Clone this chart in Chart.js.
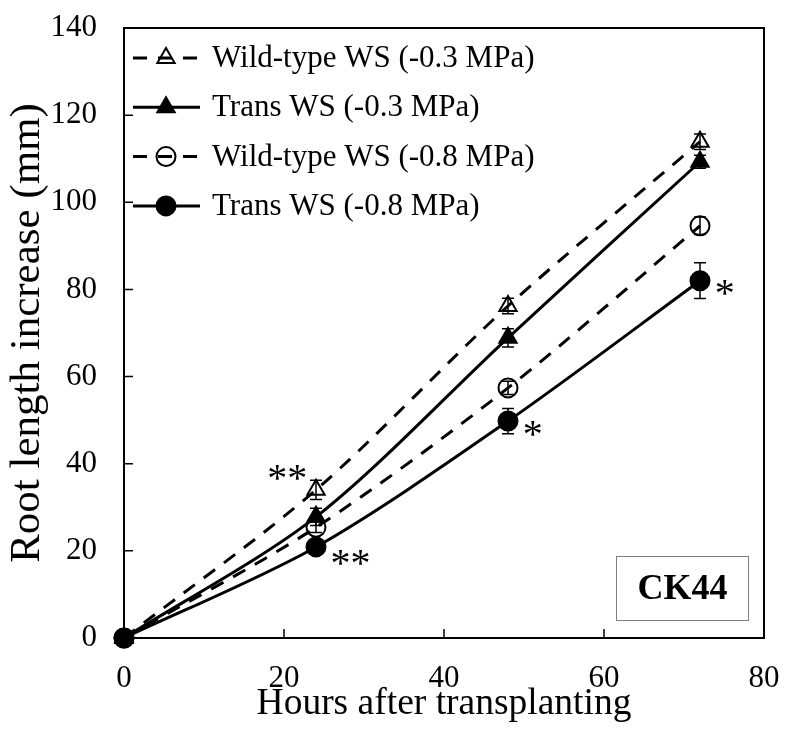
<!DOCTYPE html>
<html>
<head>
<meta charset="utf-8">
<script src="https://cdn.jsdelivr.net/npm/chart.js@4.4.0/dist/chart.umd.min.js"></script>
<style>
    html, body { margin: 0; padding: 0; background: #fff; }
</style>
</head>
<body>
<canvas id="rootChart" width="796" height="741"></canvas>
<script>
// dados
const horas = [0, 24, 48, 72];
const wt03 = [0, 34.0, 76.2, 113.9];
const trans03 = [0, 27.8, 68.9, 109.3];
const wt08 = [0, 25.4, 57.4, 94.6];
const trans08 = [0, 20.9, 49.8, 82.0];

// desvios (barras de erro)
const errWt03 = [0, 2.2, 1.8, 1.8];
const errTrans03 = [0, 2.0, 2.1, 1.5];
const errWt08 = [0, 1.2, 1.5, 2.0];
const errTrans08 = [0, 1.0, 2.9, 4.1];

const legendas = ['Wild-type WS (-0.3 MPa)', 'Trans WS (-0.3 MPa)', 'Wild-type WS (-0.8 MPa)', 'Trans WS (-0.8 MPa)'];

// asteriscos de significância
const astX = [20.4, 28.3, 51.1, 75.1];
const astY = [37.0, 17.4, 47.0, 79.4];
const astTexto = ['**', '**', '*', '*'];

const rotulo = 'CK44';

const SERIF = '"Liberation Serif", "Times New Roman", serif';

function pontos(vals) {
    return horas.map((h, i) => ({ x: h, y: vals[i] }));
}

function serie(label, vals, err, estilo, aberto, tracejado) {
    return {
        label: label,
        data: pontos(vals),
        erros: err,
        borderColor: '#000',
        borderWidth: 3,
        borderDash: tracejado ? [14, 11] : [],
        tension: 0.3,
        pointStyle: estilo,
        pointRadius: estilo === 'triangle' ? 10 : 9.5,
        pointBorderWidth: 2,
        pointBorderColor: '#000',
        pointBackgroundColor: aberto ? 'rgba(0,0,0,0)' : '#000',
        fill: false,
        clip: false
    };
}

// desenha moldura, ticks internos, barras de erro, legenda, asteriscos e caixa CK44
const extras = {
    id: 'extras',
    beforeDatasetsDraw(chart) {
        const ctx = chart.ctx;
        const sx = chart.scales.x, sy = chart.scales.y;
        ctx.save();
        ctx.strokeStyle = '#000';
        ctx.lineWidth = 1.5;
        chart.data.datasets.forEach(ds => {
            ds.data.forEach((p, i) => {
                const e = ds.erros[i];
                if (!e) return;
                const px = sx.getPixelForValue(p.x);
                const y1 = sy.getPixelForValue(p.y + e);
                const y2 = sy.getPixelForValue(p.y - e);
                ctx.beginPath();
                ctx.moveTo(px, y1); ctx.lineTo(px, y2);
                ctx.moveTo(px - 6, y1); ctx.lineTo(px + 6, y1);
                ctx.moveTo(px - 6, y2); ctx.lineTo(px + 6, y2);
                ctx.stroke();
            });
        });
        ctx.restore();
    },
    afterDraw(chart) {
        const ctx = chart.ctx;
        const a = chart.chartArea;
        const sx = chart.scales.x, sy = chart.scales.y;
        ctx.save();

        // moldura
        ctx.strokeStyle = '#000';
        ctx.lineWidth = 2;
        ctx.strokeRect(a.left, a.top, a.right - a.left, a.bottom - a.top);

        // ticks para dentro
        ctx.lineWidth = 1.5;
        ctx.beginPath();
        sx.ticks.forEach(t => {
            const px = sx.getPixelForValue(t.value);
            ctx.moveTo(px, a.bottom); ctx.lineTo(px, a.bottom - 9);
        });
        sy.ticks.forEach(t => {
            const py = sy.getPixelForValue(t.value);
            ctx.moveTo(a.left, py); ctx.lineTo(a.left + 9, py);
        });
        ctx.stroke();

        // legenda
        const x0 = a.left + 9, x1 = a.left + 76, xm = a.left + 42;
        chart.data.datasets.forEach((ds, i) => {
            const y = a.top + 30 + i * 49.3;
            ctx.strokeStyle = '#000';
            ctx.lineWidth = 3;
            ctx.setLineDash(ds.borderDash);
            ctx.beginPath();
            ctx.moveTo(x0, y); ctx.lineTo(x1, y);
            ctx.stroke();
            ctx.setLineDash([]);
            ctx.lineWidth = 2;
            ctx.fillStyle = ds.pointBackgroundColor;
            const r = ds.pointRadius;
            ctx.beginPath();
            if (ds.pointStyle === 'triangle') {
                ctx.moveTo(xm, y - r);
                ctx.lineTo(xm + r * Math.sin(2 * Math.PI / 3), y - r * Math.cos(2 * Math.PI / 3));
                ctx.lineTo(xm + r * Math.sin(4 * Math.PI / 3), y - r * Math.cos(4 * Math.PI / 3));
                ctx.closePath();
            } else {
                ctx.arc(xm, y, r, 0, Math.PI * 2);
            }
            ctx.fill();
            ctx.stroke();
            ctx.fillStyle = '#000';
            ctx.font = '31px ' + SERIF;
            ctx.textAlign = 'left';
            ctx.textBaseline = 'middle';
            ctx.fillText(legendas[i], a.left + 88, y + 1);
        });

        // asteriscos
        ctx.font = '40px ' + SERIF;
        ctx.textAlign = 'center';
        ctx.textBaseline = 'alphabetic';
        astTexto.forEach((t, i) => {
            const px = sx.getPixelForValue(astX[i]);
            const py = sy.getPixelForValue(astY[i]);
            ctx.fillText(t, px, py + 14);
        });

        // caixa CK44
        ctx.strokeStyle = '#808080';
        ctx.lineWidth = 1;
        ctx.strokeRect(a.right - 147.5, a.bottom - 81.5, 132, 64);
        ctx.fillStyle = '#000';
        ctx.font = 'bold 36px ' + SERIF;
        ctx.textBaseline = 'middle';
        ctx.fillText(rotulo, a.right - 81.5, a.bottom - 48);
        ctx.restore();
    }
};

new Chart(document.getElementById('rootChart').getContext('2d'), {
    type: 'line',
    data: {
        datasets: [
            serie(legendas[0], wt03, errWt03, 'triangle', true, true),
            serie(legendas[1], trans03, errTrans03, 'triangle', false, false),
            serie(legendas[2], wt08, errWt08, 'circle', true, true),
            serie(legendas[3], trans08, errTrans08, 'circle', false, false)
        ]
    },
    options: {
        responsive: false,
        animation: false,
        layout: { padding: { left: 0, top: 28, right: 32, bottom: 0 } },
        plugins: {
            legend: { display: false },
            tooltip: { enabled: false }
        },
        scales: {
            x: {
                type: 'linear',
                min: 0, max: 80,
                afterFit: s => { s.height = 103; s.paddingLeft = 0; s.paddingRight = 0; },
                ticks: { stepSize: 20, color: '#000', padding: 22, font: { family: SERIF, size: 31 } },
                grid: { display: false, drawTicks: false },
                border: { display: false },
                title: { display: true, text: 'Hours after transplanting', color: '#000',
                         font: { family: SERIF, size: 37.5 }, padding: { top: 0, bottom: 14 } }
            },
            y: {
                min: 0, max: 140,
                afterFit: s => { s.width = 124; s.paddingTop = 0; s.paddingBottom = 0; },
                ticks: { stepSize: 20, color: '#000', padding: 27, font: { family: SERIF, size: 31 } },
                grid: { display: false, drawTicks: false },
                border: { display: false },
                title: { display: true, text: 'Root length increase (mm)', color: '#000',
                         font: { family: SERIF, size: 43 }, padding: { top: 2, bottom: 0 } }
            }
        }
    },
    plugins: [extras]
});
</script>
</body>
</html>
